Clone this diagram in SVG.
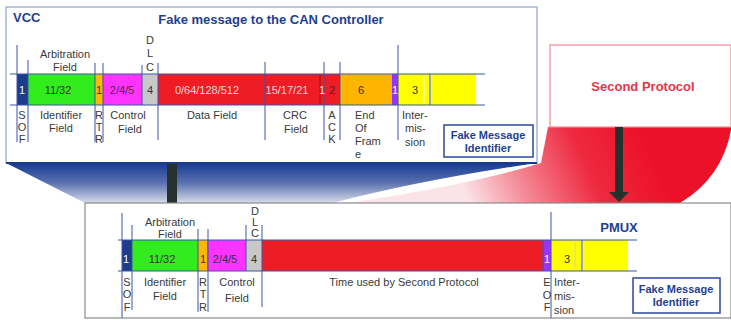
<svg xmlns="http://www.w3.org/2000/svg" width="731" height="320" viewBox="0 0 731 320">
<defs>
<linearGradient id="gBlue" gradientUnits="userSpaceOnUse" x1="0" y1="163" x2="0" y2="203">
<stop offset="0" stop-color="#163a92"/>
<stop offset="0.5" stop-color="#5a72b0"/>
<stop offset="1" stop-color="#d8dcea"/>
</linearGradient>
<linearGradient id="gRed" gradientUnits="userSpaceOnUse" x1="640" y1="127" x2="470" y2="205">
<stop offset="0" stop-color="#ec1028"/>
<stop offset="0.35" stop-color="#ee2a40"/>
<stop offset="0.7" stop-color="#f48894"/>
<stop offset="1" stop-color="#fbe4e8"/>
</linearGradient>
<style>
.lbl{font-family:"Liberation Sans",Arial,sans-serif;font-size:11px;fill:#3a3a3a;text-anchor:middle}
.lbll{font-family:"Liberation Sans",Arial,sans-serif;font-size:11px;fill:#3a3a3a}
.num{font-family:"Liberation Sans",Arial,sans-serif;font-size:11px;fill:#333;text-anchor:middle}
.numw{font-family:"Liberation Sans",Arial,sans-serif;font-size:11px;fill:#ffffff;text-anchor:middle}
.nump{font-family:"Liberation Sans",Arial,sans-serif;font-size:11px;fill:#ffd6d6;text-anchor:middle}
.title{font-family:"Liberation Sans",Arial,sans-serif;font-size:13px;font-weight:bold;fill:#1f3f8f}
.red{font-family:"Liberation Sans",Arial,sans-serif;font-size:13px;font-weight:bold;fill:#e8334a;text-anchor:middle}
.fid{font-family:"Liberation Sans",Arial,sans-serif;font-size:11px;font-weight:bold;fill:#1f3f8f;text-anchor:middle}
.vl{stroke:#3a55a8;stroke-width:1}
.hl{stroke:#3a55a8;stroke-width:1}
.sep{stroke:#7a1020;stroke-width:0.8}
.fidbox{fill:#ffffff;stroke:#2a4a9a;stroke-width:1.5}
</style>
</defs>
<rect width="731" height="320" fill="#ffffff"/>

<g id="flares">
<path d="M6,163 L537,163 Q420,180 333,203 L85,203 Z" fill="url(#gBlue)"/>
<path d="M548,127 L731,127 L731,130 Q722,178 680,203 L348,203 Q470,185 541,163 Z" fill="url(#gRed)"/>
</g>

<g id="vcc-frame">
<rect x="6" y="7" width="531" height="156" fill="#ffffff" stroke="#a8b6cc" stroke-width="1.5"/>
<line x1="6" y1="163" x2="537" y2="163" stroke="#1a3a8a" stroke-width="2"/>
<text class="title" x="13" y="22">VCC</text>
<text class="title" x="271" y="24" text-anchor="middle">Fake message to the CAN Controller</text>
<rect x="17" y="74" width="11" height="31" fill="#1c3c8c"/>
<rect x="28" y="74" width="67" height="31" fill="#33ec1e"/>
<rect x="95" y="74" width="8" height="31" fill="#ffb800"/>
<rect x="103" y="74" width="39" height="31" fill="#ff33ff"/>
<rect x="142" y="74" width="16" height="31" fill="#c8c8c8"/>
<rect x="158" y="74" width="182" height="31" fill="#ee1c24"/>
<rect x="340" y="74" width="52" height="31" fill="#ffb400"/>
<rect x="392" y="74" width="6" height="31" fill="#9933ff"/>
<rect x="398" y="74" width="32" height="31" fill="#ffff00"/>
<rect x="431" y="74" width="45" height="31" fill="#ffff00"/>
<line x1="424" y1="76" x2="424" y2="103" stroke="#ffffff" stroke-width="1"/>
<line class="sep" x1="320" y1="74" x2="320" y2="105"/>
<line class="hl" x1="10" y1="74" x2="485" y2="74"/>
<line class="hl" x1="10" y1="105" x2="485" y2="105"/>
<line class="vl" x1="17" y1="45" x2="17" y2="142"/>
<line class="vl" x1="28" y1="60" x2="28" y2="142"/>
<line class="vl" x1="95" y1="63" x2="95" y2="142"/>
<line class="vl" x1="103" y1="63" x2="103" y2="142"/>
<line class="vl" x1="142" y1="65" x2="142" y2="105"/>
<line class="vl" x1="158" y1="63" x2="158" y2="140"/>
<line class="vl" x1="265" y1="62" x2="265" y2="140"/>
<line class="vl" x1="324" y1="62" x2="324" y2="140"/>
<line class="vl" x1="340" y1="62" x2="340" y2="140"/>
<line class="vl" x1="398" y1="45" x2="398" y2="140"/>
<line class="vl" x1="430" y1="74" x2="430" y2="105"/>
<text class="lbl" x="65" y="58">Arbitration</text>
<text class="lbl" x="65" y="71">Field</text>
<text class="lbl" x="150" y="44">D</text>
<text class="lbl" x="150" y="57">L</text>
<text class="lbl" x="150" y="71">C</text>
<text class="numw" x="22" y="94">1</text>
<text class="num" x="58" y="94">11/32</text>
<text class="num" x="99" y="94">1</text>
<text class="num" x="122" y="94">2/4/5</text>
<text class="num" x="150" y="94">4</text>
<text class="nump" x="207" y="94">0/64/128/512</text>
<text class="nump" x="287" y="94">15/17/21</text>
<text class="nump" x="322" y="94">1</text>
<text class="num" x="332" y="94">2</text>
<text class="num" x="361" y="94">6</text>
<text class="numw" x="395" y="94">1</text>
<text class="num" x="415" y="94">3</text>
<text class="lbl" x="22" y="119">S</text>
<text class="lbl" x="22" y="131">O</text>
<text class="lbl" x="22" y="143">F</text>
<text class="lbl" x="61" y="119">Identifier</text>
<text class="lbl" x="61" y="132">Field</text>
<text class="lbl" x="99" y="119">R</text>
<text class="lbl" x="99" y="131">T</text>
<text class="lbl" x="99" y="143">R</text>
<text class="lbl" x="128" y="119">Control</text>
<text class="lbl" x="130" y="133">Field</text>
<text class="lbl" x="212" y="119">Data Field</text>
<text class="lbl" x="295" y="119">CRC</text>
<text class="lbl" x="296" y="133">Field</text>
<text class="lbl" x="332" y="119">A</text>
<text class="lbl" x="332" y="131">C</text>
<text class="lbl" x="332" y="143">K</text>
<text class="lbll" x="355" y="119">End</text>
<text class="lbll" x="355" y="132">Of</text>
<text class="lbll" x="355" y="145">Fram</text>
<text class="lbll" x="355" y="158">e</text>
<text class="lbll" x="402" y="119">Inter-</text>
<text class="lbll" x="405" y="132">mis-</text>
<text class="lbll" x="405" y="146">sion</text>
</g>

<g id="vcc-fake-id">
<rect class="fidbox" x="444" y="125" width="89" height="32"/>
<text class="fid" x="488" y="139">Fake Message</text>
<text class="fid" x="488" y="152">Identifier</text>
</g>

<g id="second-protocol">
<rect x="550" y="45" width="181" height="82" fill="#ffffff" stroke="#f08a98" stroke-width="1.2"/>
<text class="red" x="643" y="91">Second Protocol</text>
</g>

<g id="connectors">
<rect x="167" y="164" width="10" height="39" fill="#26302c"/>
<rect x="615" y="127" width="8" height="66" fill="#26302c"/>
<polygon points="609,192 629,192 619,202" fill="#26302c"/>
</g>

<g id="pmux-frame">
<rect x="85" y="203" width="646" height="115" fill="#ffffff" stroke="#8a8a8a" stroke-width="1.2"/>
<text class="title" x="619" y="232" text-anchor="middle">PMUX</text>
<rect x="122" y="240" width="10" height="31" fill="#1c3c8c"/>
<rect x="132" y="240" width="66" height="31" fill="#33ec1e"/>
<rect x="198" y="240" width="9" height="31" fill="#ffb800"/>
<rect x="207" y="240" width="39" height="31" fill="#ff33ff"/>
<rect x="246" y="240" width="16" height="31" fill="#c8c8c8"/>
<rect x="262" y="240" width="281" height="31" fill="#ee1c24"/>
<rect x="543" y="240" width="8" height="31" fill="#9933ff"/>
<rect x="551" y="240" width="31" height="31" fill="#ffff00"/>
<rect x="583" y="240" width="45" height="31" fill="#ffff00"/>
<line x1="575" y1="242" x2="575" y2="269" stroke="#d8d890" stroke-width="1"/>
<line class="hl" x1="118" y1="240" x2="637" y2="240"/>
<line class="hl" x1="118" y1="271" x2="637" y2="271"/>
<line class="vl" x1="122" y1="213" x2="122" y2="318"/>
<line class="vl" x1="132" y1="225" x2="132" y2="310"/>
<line class="vl" x1="198" y1="229" x2="198" y2="312"/>
<line class="vl" x1="208" y1="229" x2="208" y2="312"/>
<line class="vl" x1="246" y1="225" x2="246" y2="271"/>
<line class="vl" x1="262" y1="225" x2="262" y2="307"/>
<line class="vl" x1="543" y1="240" x2="543" y2="271"/>
<line class="vl" x1="551" y1="212" x2="551" y2="318"/>
<line class="vl" x1="582" y1="240" x2="582" y2="271"/>
<text class="lbl" x="170" y="226">Arbitration</text>
<text class="lbl" x="170" y="238">Field</text>
<text class="lbl" x="255" y="215">D</text>
<text class="lbl" x="255" y="226">L</text>
<text class="lbl" x="255" y="237">C</text>
<text class="numw" x="126" y="263">1</text>
<text class="num" x="162" y="263">11/32</text>
<text class="num" x="203" y="263">1</text>
<text class="num" x="225" y="263">2/4/5</text>
<text class="num" x="254" y="263">4</text>
<text class="numw" x="547" y="263">1</text>
<text class="num" x="567" y="263">3</text>
<text class="lbl" x="127" y="286">S</text>
<text class="lbl" x="127" y="298">O</text>
<text class="lbl" x="127" y="311">F</text>
<text class="lbl" x="165" y="286">Identifier</text>
<text class="lbl" x="165" y="300">Field</text>
<text class="lbl" x="203" y="286">R</text>
<text class="lbl" x="203" y="298">T</text>
<text class="lbl" x="203" y="311">R</text>
<text class="lbl" x="237" y="286">Control</text>
<text class="lbl" x="237" y="302">Field</text>
<text class="lbl" x="404" y="286">Time used by Second Protocol</text>
<text class="lbl" x="547" y="286">E</text>
<text class="lbl" x="547" y="299">O</text>
<text class="lbl" x="547" y="311">F</text>
<text class="lbll" x="554" y="286">Inter-</text>
<text class="lbll" x="554" y="300">mis-</text>
<text class="lbll" x="554" y="314">sion</text>
</g>

<g id="pmux-fake-id">
<rect class="fidbox" x="633" y="278" width="87" height="35"/>
<text class="fid" x="676" y="293">Fake Message</text>
<text class="fid" x="676" y="306">Identifier</text>
</g>
</svg>
